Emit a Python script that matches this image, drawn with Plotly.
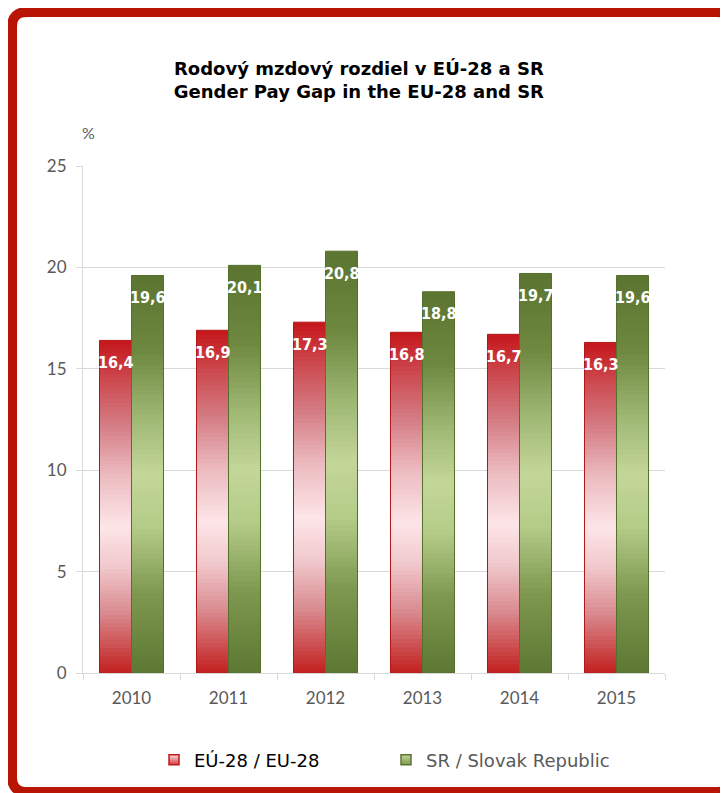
import plotly.graph_objects as go

# ---------------- data ----------------
years = ["2010", "2011", "2012", "2013", "2014", "2015"]
eu_values = [16.4, 16.9, 17.3, 16.8, 16.7, 16.3]
sr_values = [19.6, 20.1, 20.8, 18.8, 19.7, 19.6]
eu_name = "EÚ-28 / EU-28"
sr_name = "SR / Slovak Republic"
title_lines = ["Rodový mzdový rozdiel v EÚ-28 a SR", "Gender Pay Gap in the EU-28 and SR"]
y_unit = "%"

# ---------------- style ----------------
W, H = 728, 793
OFF = 8  # page body margin
ML, MR, MT, MB = 75, 71, 158, 128
N_STEPS = 80

red_stops = [(0.0, "#c5161b"), (0.12, "#cc4a50"), (0.25, "#d47a82"), (0.40, "#ebb9be"),
             (0.56, "#fde5e8"), (0.68, "#f0c8cc"), (0.82, "#d98a8f"), (1.0, "#c3201f")]
green_stops = [(0.0, "#5b7530"), (0.19, "#6e8840"), (0.36, "#9fb874"), (0.50, "#c3d699"),
               (0.63, "#b4cc88"), (0.80, "#7e9850"), (1.0, "#5d7832")]


def hex2rgb(h):
    h = h.lstrip("#")
    return tuple(int(h[i:i + 2], 16) for i in (0, 2, 4))


def grad(stops, t):
    for (t0, c0), (t1, c1) in zip(stops[:-1], stops[1:]):
        if t0 <= t <= t1:
            f = (t - t0) / (t1 - t0) if t1 > t0 else 0
            a, b = hex2rgb(c0), hex2rgb(c1)
            return "rgb({},{},{})".format(*[round(a[i] + (b[i] - a[i]) * f) for i in range(3)])
    return stops[-1][1]


def fmt(v):
    return f"{v:.1f}".replace(".", ",")


pw = W - ML - MR
ph = H - MT - MB


def px(xs):  # screen px -> paper
    return (xs - OFF - ML) / pw


def py(ys):
    return (H - MB - (ys - OFF)) / ph


fig = go.Figure()

series = [
    (eu_values, red_stops, "eu", "#b01818"),
    (sr_values, green_stops, "sr", "#55702a"),
]

for values, stops, grp, edge in series:
    for k in range(N_STEPS):
        frac = (N_STEPS - k) / N_STEPS
        t = (k + 0.5) / N_STEPS
        fig.add_trace(go.Bar(
            x=years, y=[v * frac for v in values],
            offsetgroup=grp, showlegend=False, hoverinfo="skip",
            marker=dict(color=grad(stops, t), line=dict(width=0)),
        ))
    # outline
    fig.add_trace(go.Bar(
        x=years, y=values, offsetgroup=grp, showlegend=False, hoverinfo="skip",
        marker=dict(color="rgba(0,0,0,0)", line=dict(color=edge, width=1)),
    ))

# legend entries
fig.add_trace(go.Scatter(
    x=[years[0]], y=[None], mode="markers", name=f'<span style="color:#000000">{eu_name}</span>',
    marker=dict(symbol="square", size=10, color="#fbe0e3",
                gradient=dict(type="vertical", color="#d23a40"),
                line=dict(color="#c01818", width=1.5)),
))
fig.add_trace(go.Scatter(
    x=[years[0]], y=[None], mode="markers", name=sr_name,
    marker=dict(symbol="square", size=10, color="#c3d699",
                gradient=dict(type="vertical", color="#7e9850"),
                line=dict(color="#5b7530", width=1.5)),
))

# data labels
annotations = []
for values, shift in ((eu_values, -16), (sr_values, 16)):
    for i, v in enumerate(values):
        annotations.append(dict(
            x=i, y=v, xref="x", yref="y", text=fmt(v), showarrow=False,
            xshift=shift, yshift=-22, xanchor="center", yanchor="middle",
            font=dict(family="DejaVu Sans Condensed, DejaVu Sans", size=16,
                      color="white", weight="bold"),
        ))

annotations.append(dict(
    x=px(88), y=py(133), xref="paper", yref="paper", text=y_unit, showarrow=False,
    xanchor="center", yanchor="middle",
    font=dict(family="Lato", size=16, color="#595959"),
))


# rounded border (figure pixel coords -> paper)
def fx(xf):
    return (xf - ML) / pw


def fy(yf):
    return (H - MB - yf) / ph


x0, x1, y0, y1, r = fx(4), fx(724), fy(4), fy(784), 15
rx, ry = r / pw, r / ph
path = (f"M {x0 + rx},{y0} L {x1 - rx},{y0} Q {x1},{y0} {x1},{y0 - ry} "
        f"L {x1},{y1 + ry} Q {x1},{y1} {x1 - rx},{y1} L {x0 + rx},{y1} "
        f"Q {x0},{y1} {x0},{y1 + ry} L {x0},{y0 - ry} Q {x0},{y0} {x0 + rx},{y0} Z")

fig.update_layout(
    width=W, height=H,
    margin=dict(l=ML, r=MR, t=MT, b=MB, autoexpand=False),
    paper_bgcolor="white", plot_bgcolor="white",
    barmode="group", bargap=0.34, bargroupgap=0,
    title=dict(text="<br>".join(title_lines), x=0.482, xref="container", xanchor="center",
               y=1 - 67 / H, yref="container", yanchor="top",
               font=dict(family="DejaVu Sans", size=18, color="#000000", weight="bold")),
    xaxis=dict(type="category", range=[-0.5, len(years) - 0.5], showline=True,
               linecolor="#d9d9d9", linewidth=1, ticks="outside",
               tickson="boundaries", ticklen=6, tickcolor="#d9d9d9", showgrid=False,
               tickfont=dict(family="Lato", size=17, color="#595959"), ticklabelstandoff=10),
    yaxis=dict(range=[0, 25], dtick=5, showgrid=True, gridcolor="#d9d9d9", gridwidth=1,
               showline=True, linecolor="#d9d9d9", ticks="outside", ticklen=6,
               tickcolor="#d9d9d9", zeroline=False,
               tickfont=dict(family="Lato", size=17, color="#595959"), ticklabelstandoff=6),
    legend=dict(orientation="h", x=px(154), xanchor="left", y=py(760), yanchor="middle",
                font=dict(family="DejaVu Sans", size=18, color="#595959"),
                entrywidth=187, entrywidthmode="pixels", bgcolor="rgba(0,0,0,0)"),
    annotations=annotations,
    shapes=[dict(type="path", path=path, xref="paper", yref="paper",
                 line=dict(color="#b91505", width=10), fillcolor="rgba(0,0,0,0)", layer="above")],
    showlegend=True,
)

fig.write_html("out.html")
